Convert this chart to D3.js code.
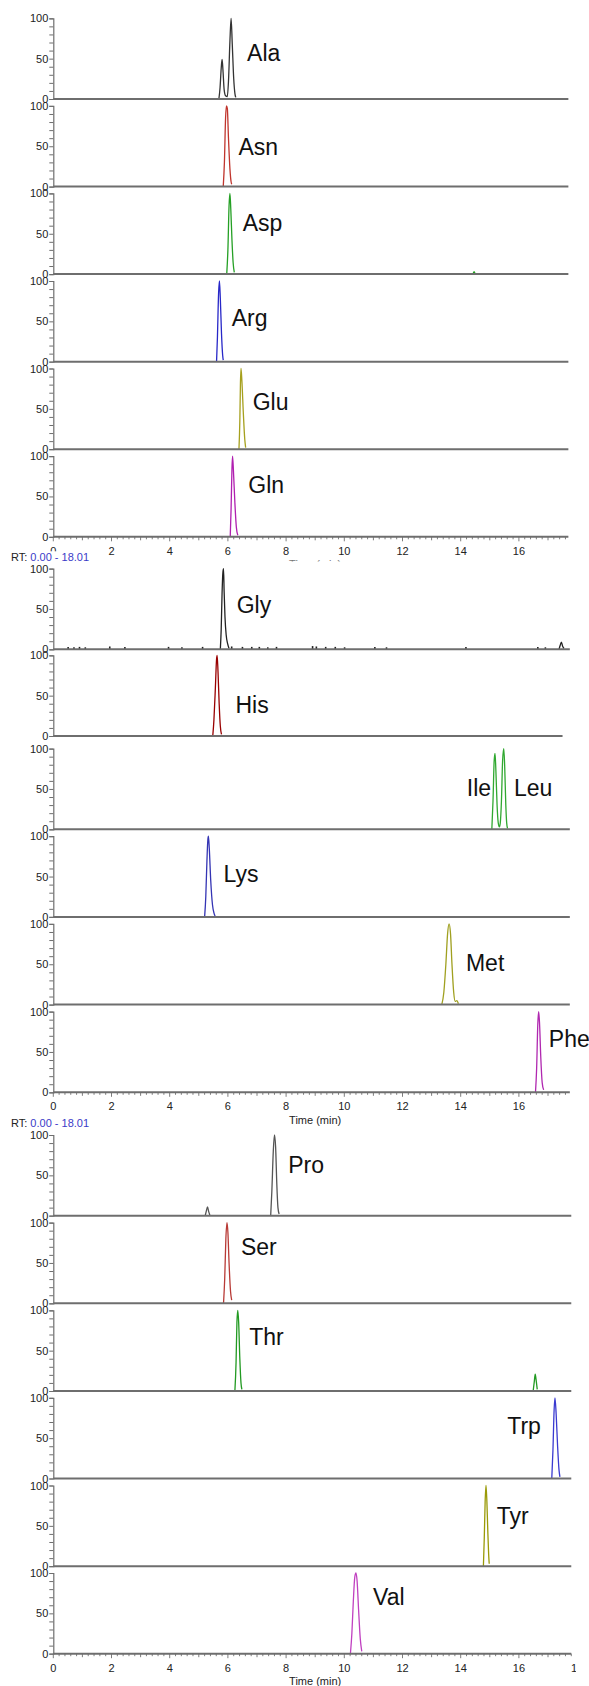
<!DOCTYPE html>
<html><head><meta charset="utf-8">
<script src="https://cdn.jsdelivr.net/npm/d3@7"></script>
<style>
body{margin:0;background:#fff}
svg{display:block;font-family:"Liberation Sans",Arial,sans-serif}
</style>
</head><body>
<svg id="chart" width="589" height="1686"></svg>
<script>
// ---------------- DATA (retention time in min, relative abundance in %) ----------------
const compoundNames = ["Ala","Asn","Asp","Arg","Glu","Gln","Gly","His","Ile/Leu","Lys","Met","Phe","Pro","Ser","Thr","Trp","Tyr","Val"];

const alaTrace = [[5.69,0],[5.73,14],[5.77,38],[5.80,49],[5.83,36],[5.87,12],[5.92,4],[5.98,3],[6.02,22],[6.07,72],[6.11,100],[6.15,68],[6.20,25],[6.24,7],[6.27,2]];
const asnTrace = [[5.84,0],[5.88,30],[5.92,85],[5.95,100],[5.98,97],[6.02,60],[6.07,22],[6.11,6],[6.13,3]];
const aspTrace = [[5.96,0],[6.00,30],[6.04,85],[6.07,100],[6.10,80],[6.14,42],[6.18,14],[6.22,2]];
const aspMinor = [[14.42,0],[14.46,3],[14.50,0]];
const argTrace = [[5.61,0],[5.64,30],[5.68,85],[5.71,100],[5.74,78],[5.78,35],[5.82,8],[5.84,2]];
const gluTrace = [[6.38,0],[6.41,35],[6.43,80],[6.45,100],[6.48,85],[6.53,45],[6.58,12],[6.61,2]];
const glnTrace = [[6.08,0],[6.11,35],[6.14,85],[6.16,100],[6.19,82],[6.24,42],[6.29,12],[6.34,2]];
const glyTrace = [[5.74,0],[5.77,25],[5.80,70],[5.83,96],[5.85,100],[5.87,72],[5.90,40],[5.94,18],[5.99,7],[6.04,1]];
const glyTail  = [[17.38,0],[17.42,5],[17.46,9],[17.50,4],[17.55,1]];
const glyNoise = [[0.51,3],[0.71,2.5],[0.90,3],[1.10,2.5],[1.94,3.5],[2.46,3],[3.96,3],[4.42,2.5],[5.13,3],[6.13,3.5],[6.50,3],[6.82,3],[7.08,3],[7.37,2.5],[7.67,3],[8.91,4],[9.04,3.5],[9.36,3],[9.69,3],[10.01,2.5],[11.05,3],[11.45,2.5],[14.18,3],[16.65,3],[16.91,2.5]];
const hisTrace = [[5.48,0],[5.52,20],[5.57,60],[5.61,95],[5.63,100],[5.66,80],[5.70,40],[5.74,12],[5.78,2]];
const ileLeuTrace = [[15.07,0],[15.11,35],[15.15,85],[15.18,94],[15.21,72],[15.25,30],[15.29,8],[15.33,3],[15.36,8],[15.40,35],[15.44,85],[15.48,100],[15.51,80],[15.55,30],[15.58,8],[15.61,1]];
const lysTrace = [[5.20,0],[5.24,25],[5.28,70],[5.31,95],[5.33,100],[5.36,85],[5.41,45],[5.47,15],[5.52,5],[5.56,1]];
const metTrace = [[13.35,0],[13.42,15],[13.49,50],[13.55,88],[13.60,100],[13.65,88],[13.70,50],[13.76,15],[13.81,4],[13.87,5],[13.92,1]];
const pheTrace = [[16.57,0],[16.61,30],[16.65,85],[16.68,100],[16.71,85],[16.75,45],[16.80,12],[16.85,3]];
const proTrace = [[7.47,0],[7.51,30],[7.56,80],[7.60,100],[7.64,85],[7.68,40],[7.72,10],[7.76,2]];
const proMinor = [[5.22,0],[5.26,6],[5.30,11],[5.34,5],[5.38,1]];
const serTrace = [[5.85,0],[5.89,30],[5.93,80],[5.97,100],[6.00,88],[6.04,50],[6.09,15],[6.13,4]];
const thrTrace = [[6.24,0],[6.28,35],[6.31,85],[6.34,100],[6.37,85],[6.41,40],[6.45,10],[6.48,2]];
const thrMinor = [[16.49,0],[16.53,12],[16.56,21],[16.59,14],[16.63,2]];
const trpTrace = [[17.13,0],[17.17,35],[17.21,85],[17.24,100],[17.28,80],[17.33,40],[17.38,10],[17.41,2]];
const tyrTrace = [[14.78,0],[14.81,35],[14.84,80],[14.87,100],[14.90,80],[14.93,45],[14.96,15],[14.98,3]];
const valTrace = [[10.21,0],[10.26,25],[10.31,65],[10.36,95],[10.40,100],[10.44,90],[10.49,55],[10.55,18],[10.60,3]];

const tracesByCompound = {
  "Ala":[alaTrace], "Asn":[asnTrace], "Asp":[aspTrace, aspMinor], "Arg":[argTrace],
  "Glu":[gluTrace], "Gln":[glnTrace], "Gly":[glyTrace, glyTail], "His":[hisTrace],
  "Ile/Leu":[ileLeuTrace], "Lys":[lysTrace], "Met":[metTrace], "Phe":[pheTrace],
  "Pro":[proTrace, proMinor], "Ser":[serTrace], "Thr":[thrTrace, thrMinor],
  "Trp":[trpTrace], "Tyr":[tyrTrace], "Val":[valTrace]
};

// peak annotations: [text, panel, time, abundance]
const peakLabels = [
  ["Ala","Ala",6.66,57],["Asn","Asn",6.36,49],["Asp","Asp",6.51,64],["Arg","Arg",6.13,54],
  ["Glu","Glu",6.85,59],["Gln","Gln",6.70,64],["Gly","Gly",6.30,55],["His","His",6.26,39],
  ["Ile","Ile/Leu",14.21,51],["Leu","Ile/Leu",15.83,51],["Lys","Lys",5.85,54],["Met","Met",14.18,52],
  ["Phe","Phe",17.03,66],["Pro","Pro",8.07,63],["Ser","Ser",6.45,70],["Thr","Thr",6.73,67],
  ["Trp","Trp",15.60,66],["Tyr","Tyr",15.24,63],["Val","Val",10.99,70]
];

const xTickValues = [0,2,4,6,8,10,12,14,16,18];
const yTickValues = [0,10,20,30,40,50,60,70,80,90,100];
const yTickLabels = [0,50,100];
const timeDomain = [0,18];
const rtPrefix = "RT:";
const rtRange = " 0.00 - 18.01";
const xAxisTitle = "Time (min)";

// ---------------- STYLE / LAYOUT ----------------
const colors = {
  "Ala":"#333333","Asn":"#c0352d","Asp":"#25a025","Arg":"#2828c8","Glu":"#a6a01e","Gln":"#b020b0",
  "Gly":"#222222","His":"#990000","Ile/Leu":"#30a830","Lys":"#3434b4","Met":"#a0a020","Phe":"#b028b0",
  "Pro":"#555555","Ser":"#b83a36","Thr":"#229a22","Trp":"#3a3ad0","Tyr":"#9a9a08","Val":"#c040c0"
};
const axisColor = "#6e6e6e";
const panelH = 80.7;
// baselines (px) for each panel, by group
const groups = [
  {panels:["Ala","Asn","Asp","Arg","Glu","Gln"], baselines:[99,186.6,274.1,361.7,449.2,536.8], axisEnd:17.7,
   rtY:560.8, titleY:568, titleClip:561.5, hideZero:true, showLast:false},
  {panels:["Gly","His","Ile/Leu","Lys","Met","Phe"], baselines:[649.3,736,829.3,916.9,1004.6,1092.3], axisEnd:17.75,
   rtY:1126.7, titleY:1124, titleClip:null, hideZero:false, showLast:false},
  {panels:["Pro","Ser","Thr","Trp","Tyr","Val"], baselines:[1215.7,1303.3,1391,1478.5,1566.2,1653.7], axisEnd:17.8,
   rtY:null, titleY:1685, titleClip:null, hideZero:false, showLast:true}
];
const axisEndOverride = {"His":17.5};

const svg = d3.select("#chart");
const x = d3.scaleLinear().domain(timeDomain).range([53.3, 53.3 + 18*29.1]);

const defs = svg.append("defs");
defs.append("clipPath").attr("id","clipTitle1").append("rect")
  .attr("x",0).attr("y",0).attr("width",589).attr("height",groups[0].titleClip);
defs.append("clipPath").attr("id","clipRight").append("rect")
  .attr("x",0).attr("y",0).attr("width",576).attr("height",1686);

const line = d3.line().curve(d3.curveMonotoneX);

groups.forEach((g, gi) => {
  g.panels.forEach((name, pi) => {
    const base = g.baselines[pi];
    const y = d3.scaleLinear().domain([0,100]).range([base, base - panelH]);
    const panel = svg.append("g").attr("class","panel");
    const end = axisEndOverride[name] !== undefined ? axisEndOverride[name] : g.axisEnd;

    // y axis
    const yAxis = d3.axisLeft(y).tickValues(yTickValues).tickSize(4).tickPadding(1)
      .tickFormat(d => yTickLabels.includes(d) ? String(d) : "");
    const ya = panel.append("g").attr("transform", `translate(${x(0)},0)`).call(yAxis);
    ya.select(".domain").attr("stroke",axisColor).attr("stroke-width",1.2);
    ya.selectAll(".tick line").attr("stroke",axisColor);
    ya.selectAll("text").attr("font-size",11).attr("fill","#222").attr("font-family","Liberation Sans, Arial, sans-serif");

    // noise for Gly
    if (name === "Gly") {
      panel.selectAll("line.noise").data(glyNoise).enter().append("line")
        .attr("x1", d => x(d[0])).attr("x2", d => x(d[0]))
        .attr("y1", y(0)).attr("y2", d => y(d[1]))
        .attr("stroke","#222").attr("stroke-width",1.6);
    }

    // traces
    tracesByCompound[name].forEach(tr => {
      panel.append("path")
        .attr("d", line(tr.map(d => [x(d[0]), y(d[1])])))
        .attr("fill","none").attr("stroke",colors[name]).attr("stroke-width",1.3)
        .attr("stroke-linejoin","round");
    });

    // baseline
    panel.append("line").attr("x1",x(0)).attr("x2",x(end))
      .attr("y1",y(0)).attr("y2",y(0)).attr("stroke",axisColor).attr("stroke-width",2);

    // labels
    peakLabels.filter(l => l[1] === name).forEach(l => {
      panel.append("text").attr("x", x(l[2])).attr("y", y(l[3]))
        .attr("dy","0.36em").attr("font-size",23).attr("fill","#111").text(l[0]);
    });

    // bottom x axis
    if (pi === g.panels.length - 1) {
      const minor = x.ticks(90).filter(t => t <= end + 1e-9);
      panel.selectAll("line.minor").data(minor).enter().append("line")
        .attr("x1", d => x(d)).attr("x2", d => x(d))
        .attr("y1", base).attr("y2", d => base + (Math.abs(d - Math.round(d/2)*2) < 1e-6 ? 4.5 : (Math.abs(d-Math.round(d))<1e-6 ? 3.5 : 2.5)))
        .attr("stroke",axisColor).attr("stroke-width",0.9);
      const labelsG = panel.append("g");
      if (g.showLast) labelsG.attr("clip-path","url(#clipRight)");
      labelsG.selectAll("text").data(xTickValues.filter(t => t <= end || (g.showLast && t === 18)))
        .enter().append("text")
        .attr("x", d => x(d)).attr("y", base + 18)
        .attr("text-anchor","middle").attr("font-size",11).attr("fill","#222").text(d => d);

      const title = panel.append("text").attr("x", x(9)).attr("y", g.titleY)
        .attr("text-anchor","middle").attr("font-size",11).attr("fill","#222").text(xAxisTitle);
      if (g.titleClip) title.attr("clip-path","url(#clipTitle1)").attr("fill","#777");

      if (g.rtY) {
        panel.append("rect").attr("x",8).attr("y",g.rtY-9.5).attr("width",86).attr("height",13).attr("fill","#fff");
        const rt = panel.append("text").attr("x",11).attr("y",g.rtY).attr("font-size",11).attr("fill","#222");
        rt.append("tspan").text(rtPrefix);
        rt.append("tspan").attr("fill","#3a3ac8").text(rtRange);
      }
    }
  });
});
</script>
</body></html>
